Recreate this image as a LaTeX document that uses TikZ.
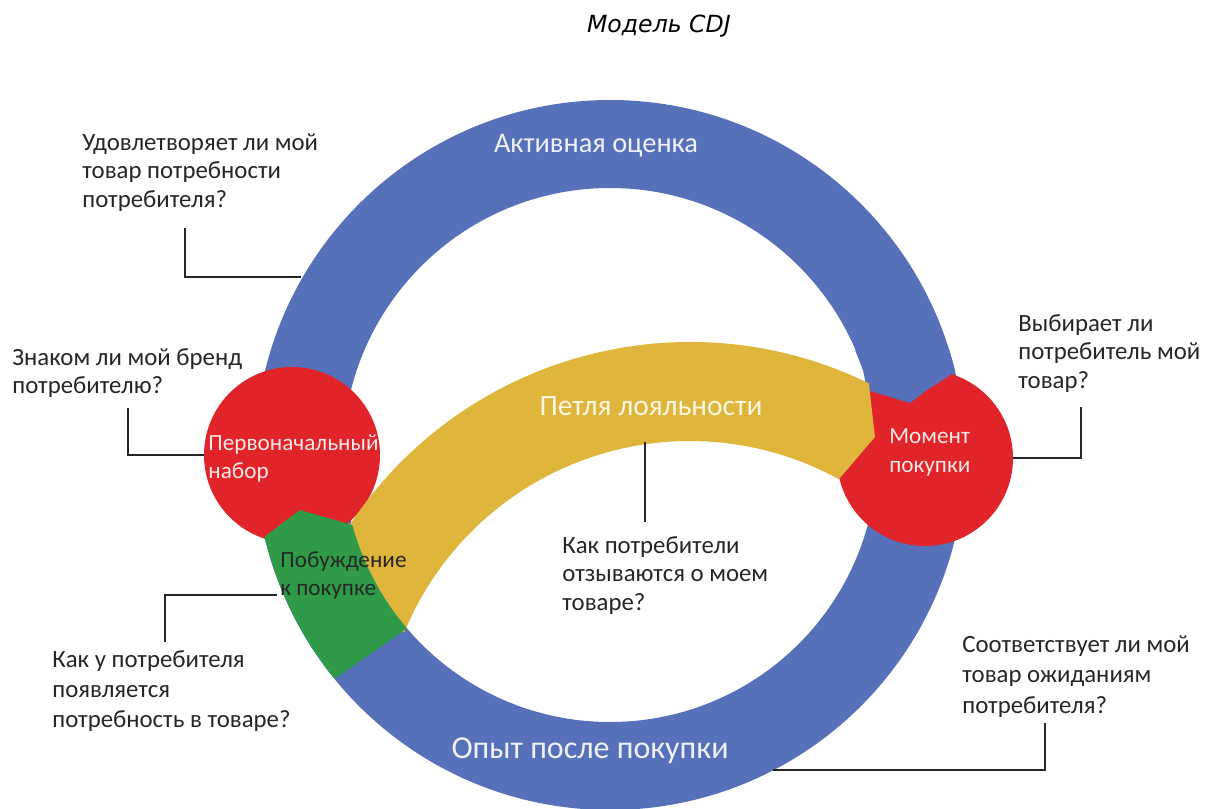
\documentclass[tikz,border=0pt]{standalone}
\usepackage{fontspec}
\setmainfont{Carlito}
\newfontfamily\titlefont{DejaVu Sans}
\usetikzlibrary{calc}
\definecolor{ringblue}{HTML}{5671B9}
\definecolor{cred}{HTML}{E0242A}
\definecolor{cgreen}{HTML}{2F9B48}
\definecolor{cyellow}{HTML}{DFB53C}
\definecolor{ink}{HTML}{262626}
\definecolor{onred}{HTML}{FBE6E6}
\definecolor{onblue}{HTML}{EEF1F8}
\definecolor{onyellow}{HTML}{FFF7E2}
\newcommand\mlines[2]{\vtop{\baselineskip=#1\relax #2}}
\begin{document}
\begin{tikzpicture}[x=0.5pt,y=-0.5pt,
  q/.style={font=\fontsize{12.4}{14.3}\selectfont, text=ink, inner sep=0, anchor=base west},
  inlbl/.style={font=\fontsize{11.6}{14}\selectfont, inner sep=0, anchor=base west},
  biglbl/.style={inner sep=0, anchor=base},
  conn/.style={draw=ink, line width=0.9pt},
  bubble/.style={circle, fill=cred, inner sep=0, minimum size=88pt}]
\useasboundingbox (0,0) rectangle (1207,809);
% ring
\coordinate (C) at (610,455);
\fill[ringblue, even odd rule] (C) circle[radius=355] (C) circle[radius=267];
% red bubbles
\node[bubble] (n1) at (292,455) {};
\node[bubble] (n2) at (925,458) {};
% blue notch over right bubble
\begin{scope}
\clip (C) circle[radius=355];
\fill[ringblue] (855,350) -- (863,370) -- (867,390) -- (910,403) -- (927,390) -- (955,372) -- (962,350) -- cycle;
\end{scope}
% yellow loyalty band
\coordinate (Y) at (690,750);
\fill[cyellow] ($(Y)+(-146:408)$) arc[start angle=-146,end angle=-64,radius=408]
  -- (875,437) -- ($(Y)+(-61.2:309)$) arc[start angle=-61.2,end angle=-157.5,radius=309]
  -- ($(C)+(141:285)$) -- ($(C)+(163:285)$) -- cycle;
% green trigger
\fill[cgreen] (300,510) -- ($(C)+(164.8:267)$) arc[start angle=164.8,end angle=139.5,radius=267]
  -- ($(C)+(140.9:355)$) arc[start angle=140.9,end angle=166.7,radius=355] -- cycle;
% title
\node[biglbl, font=\titlefont\itshape\fontsize{11.8}{14}\selectfont, text=black] (title) at (659,32) {Модель CDJ};
% big labels
\node[biglbl, font=\fontsize{14.2}{17}\selectfont, text=onblue] (act) at (596,152) {Активная оценка};
\node[biglbl, font=\fontsize{16}{19}\selectfont, text=onblue] (post) at (590,758) {Опыт после покупки};
\node[biglbl, font=\fontsize{14.7}{17}\selectfont, text=onyellow] (loop) at (651,415) {Петля лояльности};
% inner labels
\node[inlbl, text=onred] (init) at (208,450) {\mlines{14pt}{\hbox{Первоначальный}\hbox{набор}}};
\node[inlbl, text=black!85] (trig) at (280,567) {\mlines{14pt}{\hbox{Побуждение}\hbox{к покупке}}};
\node[inlbl, text=onred] (buy) at (889,443) {\mlines{14.5pt}{\hbox{Момент}\hbox{покупки}}};
% questions
\node[q] (q1) at (82,150) {\mlines{14.25pt}{\hbox{Удовлетворяет ли мой}\hbox{товар потребности}\hbox{потребителя?}}};
\node[q] (q2) at (12,365) {\mlines{14pt}{\hbox{Знаком ли мой бренд}\hbox{потребителю?}}};
\node[q] (q3) at (1018,331) {\mlines{14.25pt}{\hbox{Выбирает ли}\hbox{потребитель мой}\hbox{товар?}}};
\node[q] (q4) at (52,667) {\mlines{15pt}{\hbox{Как у потребителя}\hbox{появляется}\hbox{потребность в товаре?}}};
\node[q] (q5) at (562,553) {\mlines{14.25pt}{\hbox{Как потребители}\hbox{отзываются о моем}\hbox{товаре?}}};
\node[q] (q6) at (962,652) {\mlines{15.25pt}{\hbox{Соответствует ли мой}\hbox{товар ожиданиям}\hbox{потребителя?}}};
% connectors
\coordinate (k1a) at (185,228); \coordinate (k1b) at (301,277);
\draw[conn] (k1a) |- (k1b);
\coordinate (k2a) at (128,408);
\draw[conn] (k2a) |- (n1.west);
\coordinate (k4a) at (165,642); \coordinate (k4b) at (277,595);
\draw[conn] (k4a) |- (k4b);
\coordinate (k5a) at (645,442); \coordinate (k5b) at (645,522);
\draw[conn] (k5a) -- (k5b);
\coordinate (k3a) at (1081,407);
\draw[conn] (k3a) |- (n2.east);
\coordinate (k6a) at (1045,723); \coordinate (k6b) at (773,770);
\draw[conn] (k6a) |- (k6b);
\end{tikzpicture}
\end{document}
